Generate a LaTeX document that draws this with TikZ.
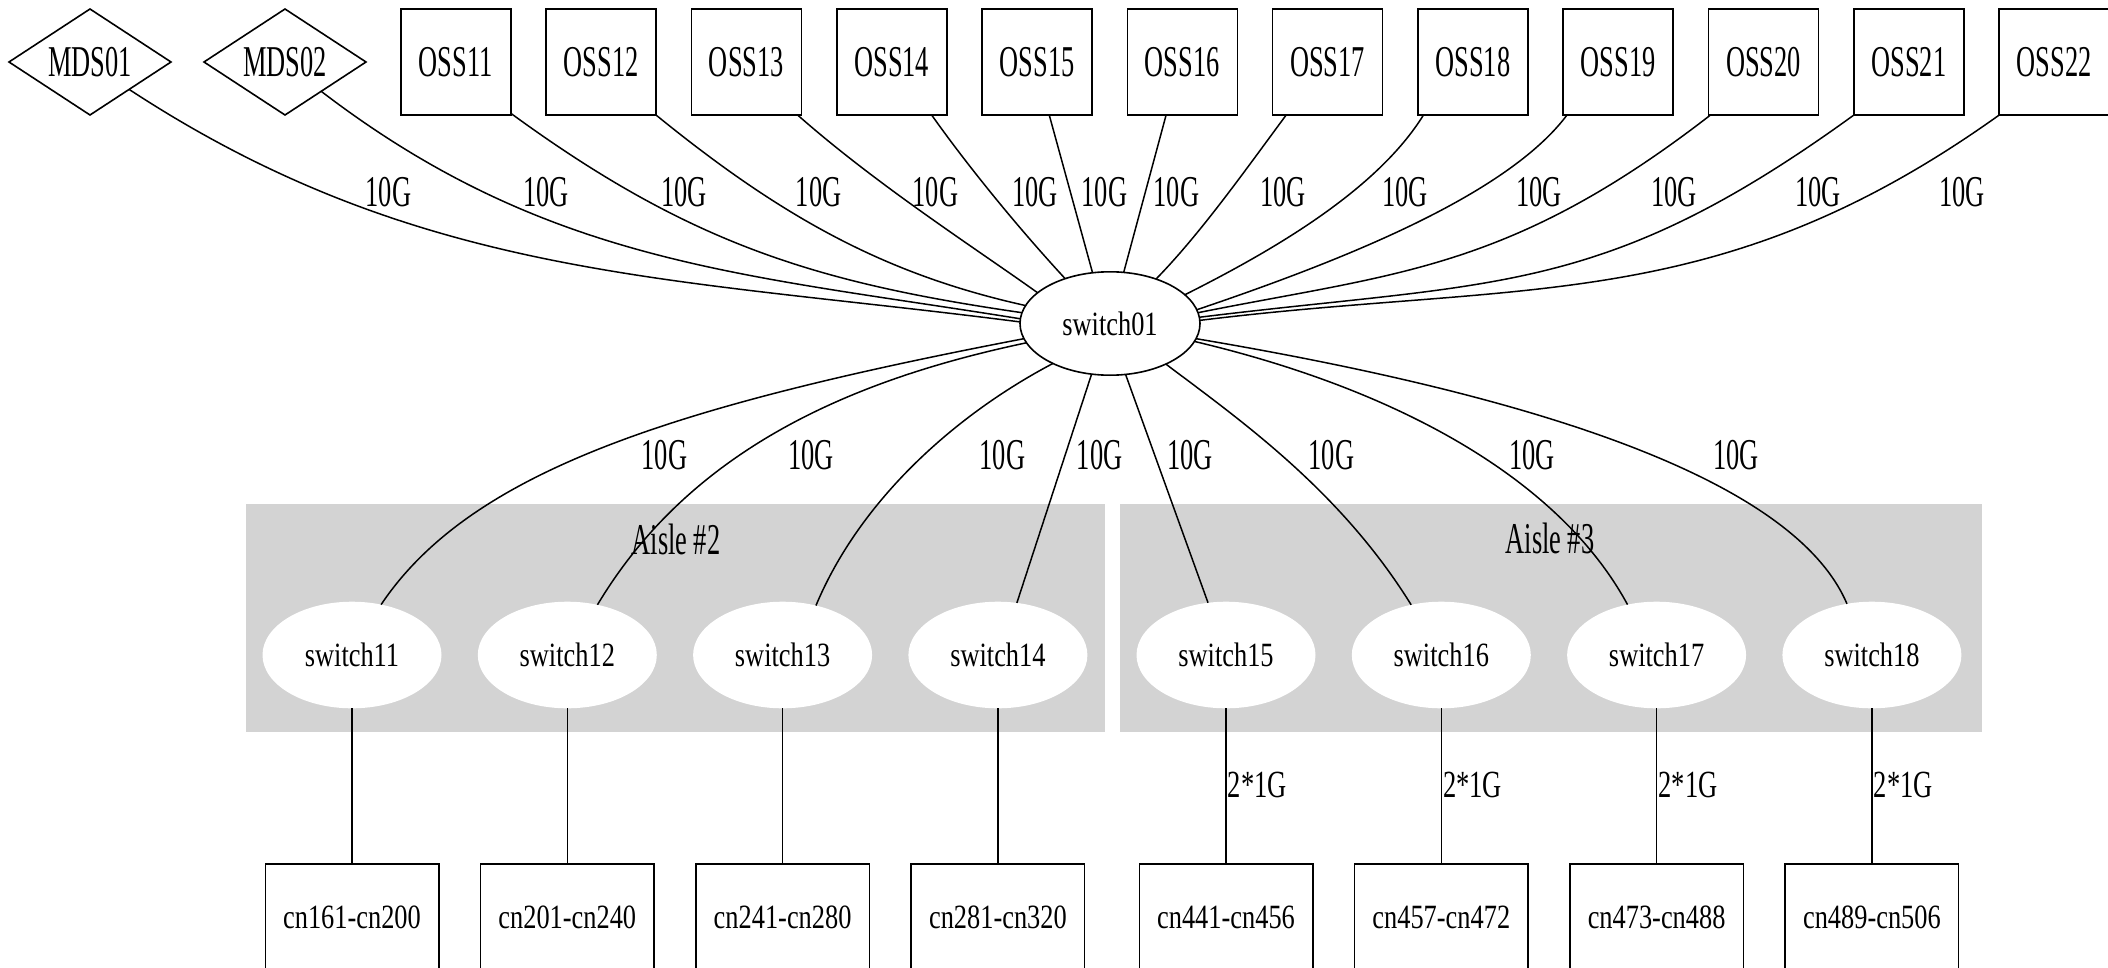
\documentclass[tikz,border=0pt]{standalone}
\usepackage{fontspec}
\usetikzlibrary{shapes.geometric}
\newfontfamily\ftAfam[FakeStretch=0.6]{Liberation Serif}
\newfontfamily\ftBfam[FakeStretch=0.776]{Liberation Serif}
\newfontfamily\ftCfam[FakeStretch=0.69]{Liberation Serif}
\newcommand\ftA{\ftAfam\fontsize{22pt}{26pt}\selectfont}
\newcommand\ftB{\ftBfam\fontsize{17pt}{20pt}\selectfont}
\newcommand\ftC{\ftCfam\fontsize{19.2pt}{22pt}\selectfont}
\definecolor{clgray}{RGB}{211,211,211}
\begin{document}
\begin{tikzpicture}[x=0.5pt,y=-0.5pt,
  ossbox/.style={draw, rectangle, minimum width=55pt, minimum height=53pt, inner sep=0pt, outer sep=0pt, line width=0.8pt, font=\ftA},
  mdsbox/.style={draw, diamond, shape aspect=1.53, minimum width=81pt, minimum height=53pt, inner sep=0pt, outer sep=0pt, line width=0.8pt, font=\ftA},
  hubnode/.style={draw, ellipse, minimum width=90pt, minimum height=51.7pt, inner sep=0pt, outer sep=0pt, line width=0.8pt, font=\ftB},
  swnode/.style={fill=white, ellipse, minimum width=89.5pt, minimum height=53.3pt, inner sep=0pt, outer sep=0pt, font=\ftB},
  cnbox/.style={draw, rectangle, minimum width=86.7pt, minimum height=53pt, inner sep=0pt, outer sep=0pt, line width=0.8pt, font=\ftB},
  lab/.style={inner sep=0pt, font=\ftA},
  labg/.style={inner sep=0pt, font=\ftC, anchor=west},
  link/.style={line width=0.75pt}
]
\useasboundingbox (0,0) rectangle (2108,968);
\clip (0,0) rectangle (2108,968);
\fill[white] (0,0) rectangle (2108,968);

% clusters
\fill[clgray] (246,504) rectangle (1105,732);
\fill[clgray] (1120,504) rectangle (1982,732);
\node[lab] (aisle2) at (676,539) {Aisle \#2};
\node[lab] (aisle3) at (1550,538) {Aisle \#3};

% top row
\node[mdsbox] (mds01) at (90,62) {MDS01};
\node[mdsbox] (mds02) at (285,62) {MDS02};
\node[ossbox] (oss11) at (455.8,62) {OSS11};
\node[ossbox] (oss12) at (601.1,62) {OSS12};
\node[ossbox] (oss13) at (746.4,62) {OSS13};
\node[ossbox] (oss14) at (891.7,62) {OSS14};
\node[ossbox] (oss15) at (1037,62) {OSS15};
\node[ossbox] (oss16) at (1182.3,62) {OSS16};
\node[ossbox] (oss17) at (1327.6,62) {OSS17};
\node[ossbox] (oss18) at (1472.9,62) {OSS18};
\node[ossbox] (oss19) at (1618.2,62) {OSS19};
\node[ossbox] (oss20) at (1763.5,62) {OSS20};
\node[ossbox] (oss21) at (1908.8,62) {OSS21};
\node[ossbox] (oss22) at (2054.1,62) {OSS22};

% hub
\node[hubnode] (hub) at (1110,323.5) {switch01};

% switches
\node[swnode] (sw11) at (352,655) {switch11};
\node[swnode] (sw12) at (567.3,655) {switch12};
\node[swnode] (sw13) at (782.6,655) {switch13};
\node[swnode] (sw14) at (997.9,655) {switch14};
\node[swnode] (sw15) at (1226,655) {switch15};
\node[swnode] (sw16) at (1441.3,655) {switch16};
\node[swnode] (sw17) at (1656.6,655) {switch17};
\node[swnode] (sw18) at (1871.9,655) {switch18};

% compute node boxes
\node[cnbox] (cn11) at (352,917) {cn161-cn200};
\node[cnbox] (cn12) at (567.3,917) {cn201-cn240};
\node[cnbox] (cn13) at (782.6,917) {cn241-cn280};
\node[cnbox] (cn14) at (997.9,917) {cn281-cn320};
\node[cnbox] (cn15) at (1226,917) {cn441-cn456};
\node[cnbox] (cn16) at (1441.3,917) {cn457-cn472};
\node[cnbox] (cn17) at (1656.6,917) {cn473-cn488};
\node[cnbox] (cn18) at (1871.9,917) {cn489-cn506};

% upper edges
\draw[link] (mds01.-35.5) .. controls (420,280) and (668,276.5) .. (hub.179);
\draw[link] (mds02.-39) .. controls (548,265) and (743,274) .. (hub.177.2);
\draw[link] (oss11.-43.8) .. controls (691,245) and (818,283) .. (hub.173.5);
\draw[link] (oss12.-44.5) .. controls (785,220) and (888,275) .. (hub.168.6);
\draw[link] (oss13.-46.3) .. controls (877,185) and (974.5,247.7) .. (hub.157.8);
\draw[link] (oss14.-53.7) .. controls (970.6,170) and (1022,232) .. (hub.135.9);
\draw[link] (oss15.-77.6) -- (hub.109.4);
\draw[link] (oss16.-107.8) -- (hub.75.9);
\draw[link] (oss17.-128.5) .. controls (1245.4,170) and (1201,233) .. (hub.44.7);
\draw[link] (oss18.-133.8) .. controls (1377,190) and (1274,250) .. (hub.21.1);
\draw[link] (oss19.-134) .. controls (1507,195) and (1344,260) .. (hub.9.1);
\draw[link] (oss20.-135.8) .. controls (1509,271) and (1395.7,273) .. (hub.7);
\draw[link] (oss21.-136) .. controls (1602,297.5) and (1496.7,280.7) .. (hub.4.5);
\draw[link] (oss22.-136) .. controls (1717,316.6) and (1526.7,280) .. (hub.2.3);

% upper labels
\node[lab] (t1) at (388.5,192) {10G};
\node[lab] (t2) at (545.8,192) {10G};
\node[lab] (t3) at (684.3,192) {10G};
\node[lab] (t4) at (818.7,192) {10G};
\node[lab] (t5) at (935.5,192) {10G};
\node[lab] (t6) at (1035,192) {10G};
\node[lab] (t7) at (1104.5,192) {10G};
\node[lab] (t8) at (1176.5,192) {10G};
\node[lab] (t9) at (1283,192) {10G};
\node[lab] (t10) at (1405,192) {10G};
\node[lab] (t11) at (1539,192) {10G};
\node[lab] (t12) at (1674,192) {10G};
\node[lab] (t13) at (1818,192) {10G};
\node[lab] (t14) at (1962,192) {10G};

% lower edges
\draw[link] (hub.190.4) .. controls (670,406.5) and (470,472) .. (sw11.60.2);
\draw[link] (hub.193.1) .. controls (850,380) and (690,450) .. (sw12.59.6);
\draw[link] (hub.215.8) .. controls (955,415) and (860,500) .. (sw13.56.5);
\draw[link] (hub.250.4) -- (sw14.70.9);
\draw[link] (hub.287.6) -- (sw15.109);
\draw[link] (hub.324.2) .. controls (1240,420) and (1340,490) .. (sw16.121.1);
\draw[link] (hub.348) .. controls (1400,390) and (1560,480) .. (sw17.120.3);
\draw[link] (hub.350) .. controls (1500,390) and (1790,470) .. (sw18.116.8);

% lower labels
\node[lab] (b1) at (664.5,455) {10G};
\node[lab] (b2) at (811,455) {10G};
\node[lab] (b3) at (1002.5,455) {10G};
\node[lab] (b4) at (1099.7,455) {10G};
\node[lab] (b5) at (1190,455) {10G};
\node[lab] (b6) at (1331.5,455) {10G};
\node[lab] (b7) at (1532,455) {10G};
\node[lab] (b8) at (1736,455) {10G};

% switch to compute nodes
\draw[link] (sw11.south) -- (cn11.north);
\draw[link] (sw12.south) -- (cn12.north);
\draw[link] (sw13.south) -- (cn13.north);
\draw[link] (sw14.south) -- (cn14.north);
\draw[link] (sw15.south) -- (cn15.north);
\draw[link] (sw16.south) -- (cn16.north);
\draw[link] (sw17.south) -- (cn17.north);
\draw[link] (sw18.south) -- (cn18.north);

\node[labg] (g15) at (1227.5,785) {2*1G};
\node[labg] (g16) at (1442.8,785) {2*1G};
\node[labg] (g17) at (1658.1,785) {2*1G};
\node[labg] (g18) at (1873.4,785) {2*1G};
\end{tikzpicture}
\end{document}
